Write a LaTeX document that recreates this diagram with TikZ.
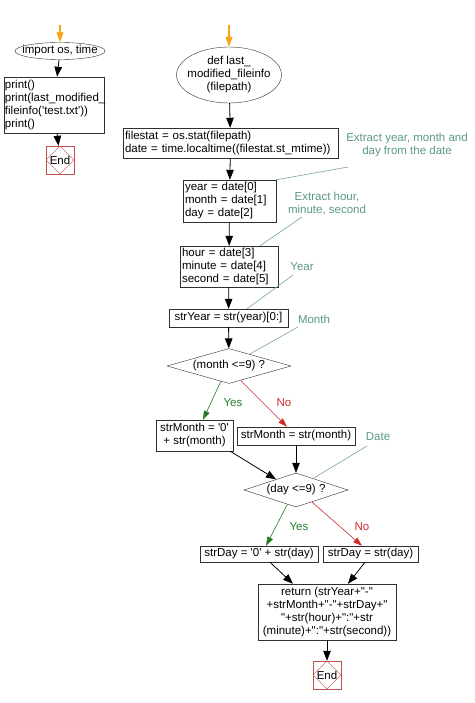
\documentclass[tikz,border=0pt]{standalone}
\usepackage{fontspec}
\setmainfont[Ligatures=TeXOff]{Liberation Sans}
\usetikzlibrary{shapes.geometric,arrows.meta,calc}
\definecolor{startorange}{HTML}{F5A31A}
\definecolor{yesgreen}{HTML}{257A25}
\definecolor{nored}{HTML}{D12A2A}
\definecolor{noteteal}{HTML}{5A9886}
\definecolor{endred}{HTML}{C0504D}
\definecolor{boxline}{HTML}{303030}

\begin{document}
\begin{tikzpicture}[x=1pt, y=-1pt, font=\fontsize{11.5}{13}\selectfont,
	proc/.style={draw=boxline, rectangle, inner xsep=2pt, inner ysep=1pt, align=left},
	term/.style={draw=boxline, ellipse, align=center, inner xsep=-6pt, inner ysep=0pt},
	cond/.style={draw=boxline, diamond, inner sep=0pt, aspect=3.5},
	stopbox/.style={draw=endred, rectangle, minimum size=28pt, inner sep=0pt,
		path picture={\draw[endred!80] (path picture bounding box.north) -- (path picture bounding box.east)
			-- (path picture bounding box.south) -- (path picture bounding box.west) -- cycle;}},
	note/.style={text=noteteal, align=center},
	lead/.style={draw=noteteal!85, line width=0.6pt},
	flow/.style={-{Triangle[length=10pt,width=7.5pt]}, line width=0.8pt},
	startarr/.style={draw=startorange, -{Triangle[length=10pt,width=7pt]}, line width=1.2pt},
	yesarr/.style={draw=yesgreen, -{Triangle[length=9pt,width=6pt]}, line width=0.6pt},
	noarr/.style={draw=nored, -{Triangle[length=9pt,width=6pt]}, line width=0.6pt}]
	\useasboundingbox (0,0) rectangle (474,703);

	\coordinate (s1) at (60,25);
	\node[term, minimum width=90pt, minimum height=17pt] (imp) at (60,51) {import os, time};
	\node[proc, inner xsep=1pt, text width=98pt, minimum height=56pt] (prt) at (54,105) {print()\\print(last\_modified\_\\fileinfo('test.txt'))\\print()};
	\node[stopbox] (end1) at (60,160) {End};

	\coordinate (s2) at (229,25);
	\node[term, minimum width=105pt, minimum height=56pt] (def) at (229,75) {def last\_\\modified\_fileinfo\\(filepath)};
	\node[proc, text width=211pt, minimum height=30pt] (fst) at (230.5,143) {filestat = os.stat(filepath)\\date = time.localtime((filestat.st\_mtime))};
	\node[proc, text width=89pt, minimum height=42pt] (ymd) at (229.5,201) {year = date[0]\\month = date[1]\\day = date[2]};
	\node[proc, text width=94pt, minimum height=41pt] (hms) at (229,266.5) {hour = date[3]\\minute = date[4]\\second = date[5]};
	\node[proc, align=center, minimum width=119pt, minimum height=18pt] (syr) at (228.5,318) {strYear = str(year)[0:]};
	\node[cond, minimum width=124pt, minimum height=35pt] (d1) at (229,366) {(month <=9) ?};
	\node[proc, align=center, minimum width=77pt, minimum height=31pt] (sm0) at (194.5,435.5) {strMonth = '0'\\+ str(month)};
	\node[proc, align=center, minimum width=118pt, minimum height=18pt] (sm1) at (296,436) {strMonth = str(month)};
	\node[cond, minimum width=104pt, minimum height=34pt] (d2) at (296,490) {(day <=9) ?};
	\node[proc, align=center, minimum width=118pt, minimum height=16pt] (sd0) at (259,554) {strDay = '0' + str(day)};
	\node[proc, align=center, minimum width=95pt, minimum height=16pt] (sd1) at (370.5,554) {strDay = str(day)};
	\node[proc, align=center, minimum width=138pt, minimum height=56pt] (ret) at (327,612) {return (strYear+"-"\\+strMonth+"-"+strDay+"\\"+str(hour)+":"+str\\(minute)+":"+str(second))};
	\node[stopbox] (end2) at (327,675) {End};

	\node[note] (n1) at (407,145) {Extract year, month and\\day from the date};
	\node[note] (n2) at (327,204) {Extract hour,\\minute, second};
	\node[note] (n3) at (302,267) {Year};
	\node[note] (n4) at (314,319) {Month};
	\node[note] (n5) at (378,437) {Date};
	\coordinate (n1e) at (348,167);
	\coordinate (n2e) at (302,217);
	\coordinate (n3e) at (293,275);
	\coordinate (n4e) at (298,327);
	\coordinate (n5e) at (367,446);

	\node[text=yesgreen] (y1) at (233,403) {Yes};
	\node[text=nored] (no1) at (284,403) {No};
	\node[text=yesgreen] (y2) at (299,527) {Yes};
	\node[text=nored] (no2) at (362,527) {No};

	\draw[startarr] (s1) -- (imp);
	\draw[flow] (imp) -- (prt);
	\draw[flow] (prt) -- (end1);
	\draw[startarr] (s2) -- (def);
	\draw[flow] (def) -- (fst);
	\draw[flow] (fst) -- (ymd);
	\draw[flow] (ymd) -- (hms);
	\draw[flow] (hms) -- (syr);
	\draw[flow] (syr) -- (d1);
	\draw[yesarr] (d1.242) -- ($(sm0.north)+(8.5,0)$);
	\draw[noarr] (d1.309) -- ($(sm1.north)+(-9,0)$);
	\draw[flow] ($(sm0.south east)+(-3,0)$) -- (d2.152);
	\draw[flow] (sm1) -- (d2);
	\draw[yesarr] (d2.239) -- ($(sd0.north)+(7,0)$);
	\draw[noarr] (d2.323) -- ($(sd1.north)+(-8.5,0)$);
	\draw[flow] ($(sd0.south)+(11,0)$) -- ($(ret.north)+(-34,0)$);
	\draw[flow] ($(sd1.south)+(-5.5,0)$) -- ($(ret.north)+(21,0)$);
	\draw[flow] (ret) -- (end2);

	\draw[lead] (n1e) -- (ymd.north east);
	\draw[lead] (n2e) -- ($(hms.north)+(31,0)$);
	\draw[lead] (n3e) -- ($(syr.north)+(18.5,0)$);
	\draw[lead] (n4e) -- (d1.30);
	\draw[lead] (n5e) -- (d2.34);
\end{tikzpicture}
\end{document}
